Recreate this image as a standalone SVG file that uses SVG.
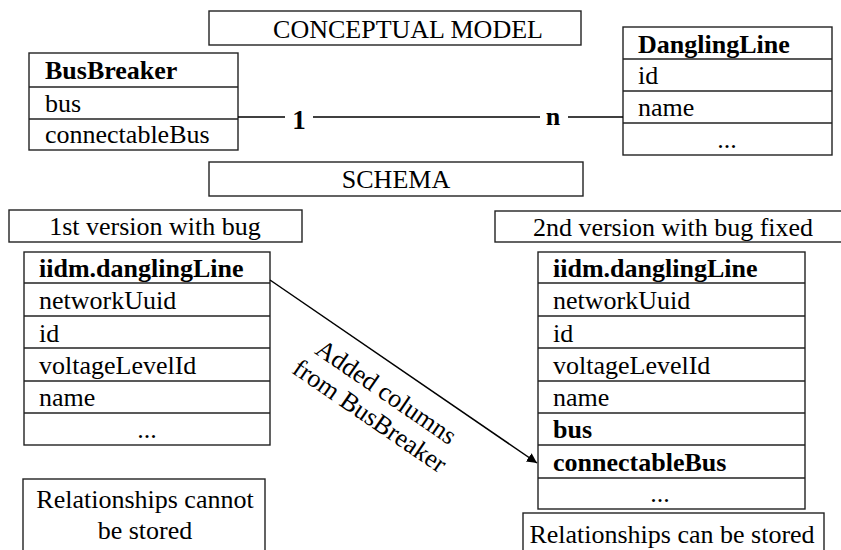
<svg xmlns="http://www.w3.org/2000/svg" width="841" height="550" viewBox="0 0 841 550">
<defs>
<style>
rect{fill:#fff;stroke:#222;stroke-width:1.4}
line{stroke:#222;stroke-width:1.4}
text{font-family:'Liberation Serif','Times New Roman',serif;font-size:26px;fill:#000}
.b{font-weight:bold}
.m{text-anchor:middle}
.conn{stroke:#000;stroke-width:1.5;fill:none}
</style>
<marker id="ah" viewBox="0 0 10 10" refX="10" refY="5" markerWidth="10" markerHeight="10" markerUnits="userSpaceOnUse" orient="auto">
<path d="M0,0 L10,5 L0,10 z" fill="#000"/>
</marker>
</defs>
<rect width="841" height="550" style="fill:#fff;stroke:none"/>

<g id="conceptual-model">
<rect x="209" y="11" width="372" height="34"/>
<text class="m" x="408" y="38">CONCEPTUAL MODEL</text>
</g>

<g id="busbreaker">
<rect x="29" y="53" width="209" height="97"/>
<line x1="29" y1="87" x2="238" y2="87"/>
<line x1="29" y1="119" x2="238" y2="119"/>
<text class="b" x="45" y="79">BusBreaker</text>
<text x="45" y="112">bus</text>
<text x="45" y="143">connectableBus</text>
</g>

<g id="danglingline">
<rect x="623" y="27" width="209" height="128"/>
<line x1="623" y1="59" x2="832" y2="59"/>
<line x1="623" y1="91" x2="832" y2="91"/>
<line x1="623" y1="123" x2="832" y2="123"/>
<text class="b" x="638" y="53">DanglingLine</text>
<text x="638" y="84">id</text>
<text x="638" y="116">name</text>
<text class="m" x="727" y="148">...</text>
</g>

<g id="schema">
<rect x="209" y="162" width="374" height="34"/>
<text class="m" x="396" y="188">SCHEMA</text>
</g>

<g id="version1">
<rect x="9" y="210" width="293" height="32"/>
<text class="m" x="155" y="235">1st version with bug</text>
</g>

<g id="version2">
<rect x="495" y="211" width="350" height="31"/>
<text class="m" x="673" y="236">2nd version with bug fixed</text>
</g>

<g id="table1">
<rect x="24" y="252" width="246" height="193"/>
<line x1="24" y1="283" x2="270" y2="283"/>
<line x1="24" y1="316" x2="270" y2="316"/>
<line x1="24" y1="348" x2="270" y2="348"/>
<line x1="24" y1="381" x2="270" y2="381"/>
<line x1="24" y1="413" x2="270" y2="413"/>
<text class="b" x="39" y="277">iidm.danglingLine</text>
<text x="39" y="309">networkUuid</text>
<text x="39" y="342">id</text>
<text x="39" y="374">voltageLevelId</text>
<text x="39" y="406">name</text>
<text class="m" x="147" y="438">...</text>
</g>

<g id="table2">
<rect x="538" y="252" width="267" height="257"/>
<line x1="538" y1="283" x2="805" y2="283"/>
<line x1="538" y1="316" x2="805" y2="316"/>
<line x1="538" y1="348" x2="805" y2="348"/>
<line x1="538" y1="381" x2="805" y2="381"/>
<line x1="538" y1="413" x2="805" y2="413"/>
<line x1="538" y1="445" x2="805" y2="445"/>
<line x1="538" y1="478" x2="805" y2="478"/>
<text class="b" x="553" y="277">iidm.danglingLine</text>
<text x="553" y="309">networkUuid</text>
<text x="553" y="342">id</text>
<text x="553" y="374">voltageLevelId</text>
<text x="553" y="406">name</text>
<text class="b" x="553" y="438">bus</text>
<text class="b" x="553" y="471">connectableBus</text>
<text class="m" x="660" y="502">...</text>
</g>

<g id="note1">
<rect x="23" y="479" width="242" height="80"/>
<text class="m" x="145" y="508">Relationships cannot</text>
<text class="m" x="145" y="539">be stored</text>
</g>

<g id="note2">
<rect x="523" y="513" width="301" height="50"/>
<text class="m" x="672" y="543">Relationships can be stored</text>
</g>

<g id="connectors">
<line class="conn" x1="238" y1="117" x2="285" y2="117"/>
<line class="conn" x1="313" y1="117" x2="540" y2="117"/>
<line class="conn" x1="568" y1="117" x2="623" y2="117"/>
<text class="b m" x="299" y="129" style="font-size:27px">1</text>
<text class="b m" x="553" y="125" style="font-size:26px">n</text>
<line class="conn" x1="270" y1="280" x2="537" y2="463" marker-end="url(#ah)"/>
<g transform="translate(378,404) rotate(34.4)">
<text class="m" x="0" y="-6">Added columns</text>
<text class="m" x="0" y="23">from BusBreaker</text>
</g>
</g>
</svg>
